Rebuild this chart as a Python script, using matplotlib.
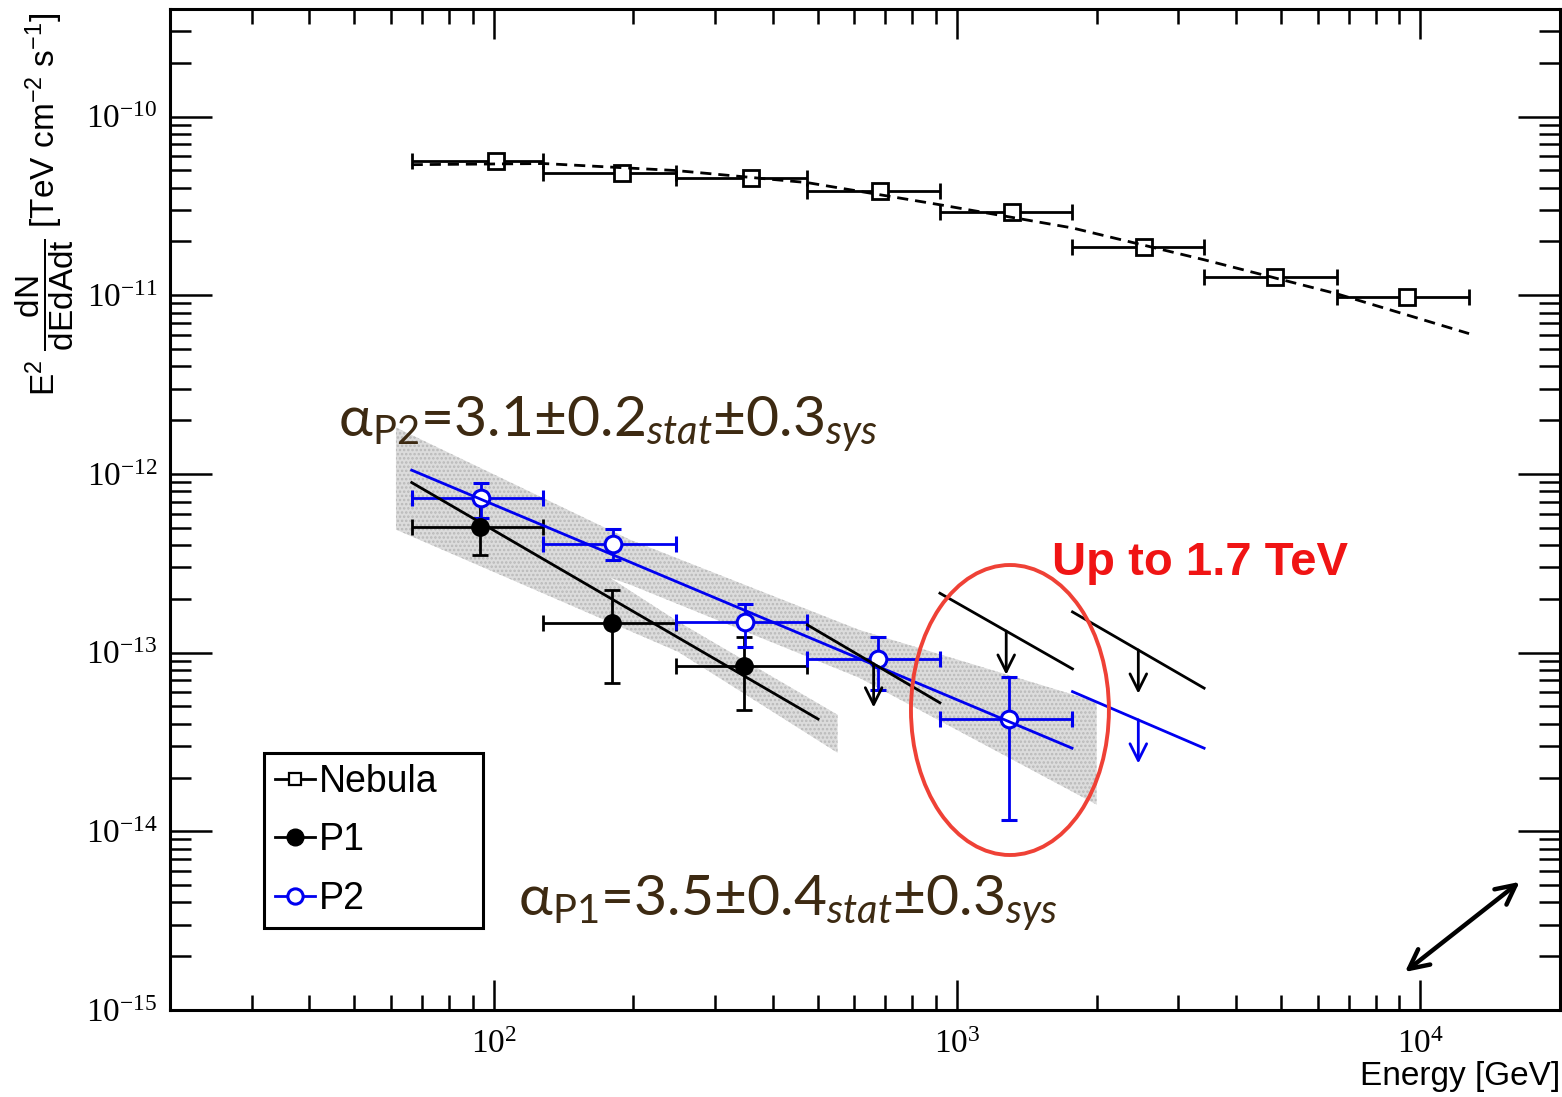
import numpy as np
import matplotlib.pyplot as plt
from matplotlib.lines import Line2D
from matplotlib.patches import Ellipse
from matplotlib.ticker import FixedLocator

plt.rcParams['mathtext.fontset'] = 'custom'
plt.rcParams['mathtext.rm'] = 'Lato'
plt.rcParams['mathtext.it'] = 'Lato:italic'
plt.rcParams['mathtext.fallback'] = 'stixsans'
plt.rcParams['hatch.linewidth'] = 1.2

# energy bins [GeV]
bin_lo = np.array([66.5, 128, 247, 475, 918, 1774, 3412, 6590])
bin_hi = np.array([128, 247, 475, 918, 1774, 3412, 6590, 12730])

# nebula SED
neb_e = np.array([101, 189, 359, 682, 1312, 2535, 4853, 9330])
neb_f = np.array([5.67e-11, 4.85e-11, 4.55e-11, 3.85e-11, 2.94e-11,
                  1.87e-11, 1.26e-11, 9.8e-12])
neb_fit_e = [66.5, 128, 247, 475, 918, 1774, 3412, 6590, 12730]
neb_fit_f = [5.38e-11, 5.46e-11, 4.99e-11, 4.27e-11, 3.21e-11, 2.38e-11,
             1.58e-11, 1.02e-11, 6.1e-12]

# pulsar peak P1
p1_e = np.array([93.3, 180, 347])
p1_f = np.array([5.08e-13, 1.46e-13, 8.47e-14])
p1_up = np.array([7.2e-13, 2.23e-13, 1.23e-13])
p1_dn = np.array([3.53e-13, 6.75e-14, 4.79e-14])
p1_fit_e = [66.5, 501]
p1_fit_f = [8.95e-13, 4.25e-14]
p1_band_e = [61.5, 250, 552]
p1_band_hi = [1.55e-12, 1.49e-13, 4.49e-14]
p1_band_lo = [4.88e-13, 1.01e-13, 2.75e-14]
# P1 upper limits (power-law segments over a bin)
p1_ul_elo = np.array([475, 918, 1774])
p1_ul_ehi = np.array([918, 1774, 3412])
p1_ul_flo = np.array([1.43e-13, 2.15e-13, 1.69e-13])
p1_ul_fhi = np.array([5.24e-14, 8.11e-14, 6.33e-14])

# pulsar peak P2
p2_e = np.array([93.7, 181, 349, 675, 1294])
p2_f = np.array([7.33e-13, 4.05e-13, 1.49e-13, 9.23e-14, 4.25e-14])
p2_up = np.array([8.95e-13, 4.91e-13, 1.87e-13, 1.22e-13, 7.35e-14])
p2_dn = np.array([5.69e-13, 3.28e-13, 1.08e-13, 6.2e-14, 1.16e-14])
p2_fit_e = [66.5, 1770]
p2_fit_f = [1.05e-12, 2.92e-14]
p2_band_e = [61.5, 197, 615, 2000]
p2_band_hi = [1.82e-12, 4.28e-13, 1.34e-13, 5.31e-14]
p2_band_lo = [6.73e-13, 2.40e-13, 7.23e-14, 1.41e-14]
p2_ul_elo = np.array([1774])
p2_ul_ehi = np.array([3412])
p2_ul_flo = np.array([6.05e-14])
p2_ul_fhi = np.array([2.92e-14])

BLUE = '#0000f0'
LW = 2.0

fig = plt.figure(figsize=(15.62, 10.97), dpi=100)
ax = fig.add_axes([0.1088, 0.0793, 0.8899, 0.9125])
ax.set_xscale('log')
ax.set_yscale('log')
ax.set_xlim(20, 2e4)
ax.set_ylim(1e-15, 4e-10)

# only ticks inside the frame
ax.xaxis.set_major_locator(FixedLocator([1e2, 1e3, 1e4]))
ax.xaxis.set_minor_locator(FixedLocator(
    [m * 10.0**d for d in range(1, 5) for m in range(2, 10) if 20 <= m * 10.0**d <= 2e4]))
ax.yaxis.set_major_locator(FixedLocator([10.0**d for d in range(-15, -9)]))
ax.yaxis.set_minor_locator(FixedLocator(
    [m * 10.0**d for d in range(-15, -9) for m in range(2, 10) if m * 10.0**d <= 4e-10]))

# butterflies, stippled grey
for be, blo, bhi in [(p1_band_e, p1_band_lo, p1_band_hi),
                     (p2_band_e, p2_band_lo, p2_band_hi)]:
    ax.fill_between(be, blo, bhi, facecolor='#dcdcdc', edgecolor='#b9b9b9',
                    hatch='....', lw=0, zorder=1)

ebar = dict(elinewidth=LW, capsize=6, capthick=LW, zorder=3)

# nebula
ax.errorbar(neb_e, neb_f, xerr=[neb_e - bin_lo, bin_hi - neb_e], fmt='s',
            ms=12, mfc='white', mec='black', mew=2, color='black', **ebar)
ax.plot(neb_fit_e, neb_fit_f, ls=(0, (4, 2.5)), color='black', lw=LW, zorder=4)

# P1
ax.errorbar(p1_e, p1_f, xerr=[p1_e - bin_lo[:3], bin_hi[:3] - p1_e],
            yerr=[p1_f - p1_dn, p1_up - p1_f], fmt='o', ms=12.5,
            color='black', **ebar)
ax.plot(p1_fit_e, p1_fit_f, color='black', lw=LW, zorder=4)

# P2
ax.errorbar(p2_e, p2_f, xerr=[p2_e - bin_lo[:5], bin_hi[:5] - p2_e],
            yerr=[p2_f - p2_dn, p2_up - p2_f], fmt='o', ms=12,
            mfc='white', mec=BLUE, mew=2.2, color=BLUE, **ebar)
ax.plot(p2_fit_e, p2_fit_f, color=BLUE, lw=LW, zorder=4)

# upper limits
for elo, ehi, flo, fhi, c in [(p1_ul_elo, p1_ul_ehi, p1_ul_flo, p1_ul_fhi, 'black'),
                              (p2_ul_elo, p2_ul_ehi, p2_ul_flo, p2_ul_fhi, BLUE)]:
    for i in range(len(elo)):
        ax.plot([elo[i], ehi[i]], [flo[i], fhi[i]], color=c, lw=LW, zorder=4)
        ec = np.sqrt(elo[i] * ehi[i])
        fc = np.sqrt(flo[i] * fhi[i])
        ax.annotate('', xy=(ec, fc * 0.57), xytext=(ec, fc),
                    arrowprops=dict(arrowstyle='->', color=c, lw=LW,
                                    mutation_scale=30, shrinkA=0, shrinkB=0),
                    zorder=4)

for s in ax.spines.values():
    s.set_linewidth(2.2)
ax.tick_params(which='both', direction='in', top=True, right=True, width=1.8,
               labelsize=24, labelfontfamily='Liberation Serif')
ax.tick_params(axis='x', which='major', length=21.6, pad=14)
ax.tick_params(axis='x', which='minor', length=10.8)
ax.tick_params(axis='y', which='major', length=30, pad=9)
ax.tick_params(axis='y', which='minor', length=15)

fig.text(0.0288, 0.814,
         r'E$^{\mathregular{2}}$ $\dfrac{\mathregular{dN}}{\mathregular{dEdAdt}}$'
         r' [TeV cm$^{\mathregular{-2}}$ s$^{\mathregular{-1}}$]',
         rotation=90, ha='center', va='center', family='Liberation Sans', size=24)
fig.text(0.9987, 1 - 1077 / 1097, 'Energy [GeV]', ha='right', va='center',
         family='Liberation Sans', size=24)

brown = '#3d2a12'
ax.text(0.1209, 0.5734,
        r'α$_{\mathregular{P2}}$=3.1±0.2$_{\mathit{stat}}$±0.3$_{\mathit{sys}}$',
        transform=ax.transAxes, fontsize=41, family='Lato', color=brown,
        va='baseline', zorder=5)
ax.text(0.2504, 0.0949,
        r'α$_{\mathregular{P1}}$=3.5±0.4$_{\mathit{stat}}$±0.3$_{\mathit{sys}}$',
        transform=ax.transAxes, fontsize=41, family='Lato', color=brown,
        va='baseline', zorder=5)
ax.text(0.6345, 0.4466, 'Up to 1.7 TeV', transform=ax.transAxes,
        fontsize=34, fontweight='bold', family='Liberation Sans',
        color='#f01414', va='center', zorder=5)

ax.add_patch(Ellipse((0.6043, 0.2997), 0.1424, 0.2897, transform=ax.transAxes,
                     fill=False, ec='#ef4136', lw=2.8, zorder=6))
ax.annotate('', xy=(0.971, 0.128), xytext=(0.8885, 0.038),
            xycoords='axes fraction',
            arrowprops=dict(arrowstyle='<->', lw=3.2, color='black',
                            mutation_scale=35, shrinkA=0, shrinkB=0))

handles = [Line2D([], [], color='black', marker='s', ms=9, mfc='white', lw=LW, mew=1.6),
           Line2D([], [], color='black', marker='o', ms=12, lw=LW),
           Line2D([], [], color=BLUE, marker='o', ms=11, mfc='white', lw=LW, mew=2.2)]
leg = ax.legend(handles, ['Nebula', 'P1', 'P2'], loc='lower left',
                bbox_to_anchor=(0.0676, 0.0819, 0.1576, 0.1798), mode='expand',
                prop={'family': 'Liberation Sans', 'size': 27}, fancybox=False,
                edgecolor='black', framealpha=1, handlelength=1.05,
                handletextpad=0.12, labelspacing=0.6, borderpad=0.3,
                borderaxespad=0)
leg.get_frame().set_linewidth(2.2)

fig.savefig('out.png', dpi=100)
